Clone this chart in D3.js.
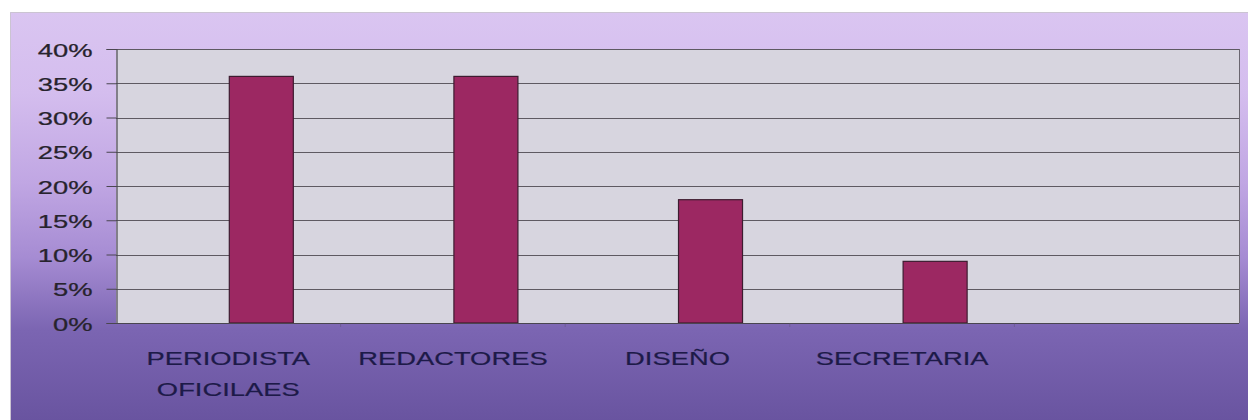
<!DOCTYPE html>
<html>
<head>
<meta charset="utf-8">
<script src="https://cdn.jsdelivr.net/npm/d3@7/dist/d3.min.js"></script>
<style>
  html, body { margin: 0; padding: 0; background: #ffffff; }
  svg { display: block; }
  text { font-family: "Liberation Sans", Arial, Helvetica, sans-serif; }
</style>
</head>
<body>
<svg id="chart" width="1248" height="420"></svg>
<script>
// Categories (the last slot of the axis is empty)
const categories = ["PERIODISTA\nOFICILAES", "REDACTORES", "DISEÑO", "SECRETARIA", ""];
// Share of each role
const values = [0.36, 0.36, 0.18, 0.09, null];
// Value axis ticks
const yTicks = [0, 0.05, 0.10, 0.15, 0.20, 0.25, 0.30, 0.35, 0.40];

const W = 1248, H = 420;
const plot = { left: 116, right: 1239, top: 49, bottom: 323 };
const textStretch = 1.44;   // wide lettering

const svg = d3.select("#chart");

// Background panel with lavender-to-purple gradient
const defs = svg.append("defs");
const grad = defs.append("linearGradient")
  .attr("id", "bg").attr("x1", 0).attr("y1", 0).attr("x2", 0).attr("y2", 1);
[[0, "#dac5f1"], [0.2, "#d4bdee"], [0.42, "#c0a6e3"], [0.6, "#a68cd3"],
 [0.78, "#7b65b2"], [1, "#6954a0"]].forEach(([o, c]) =>
  grad.append("stop").attr("offset", o).attr("stop-color", c));

svg.append("rect")
  .attr("x", 10).attr("y", 12).attr("width", W - 10).attr("height", H - 12)
  .attr("fill", "url(#bg)");
// top and left edge of the panel
svg.append("path")
  .attr("d", `M10.5,${H} V12.5 H${W}`)
  .attr("fill", "none").attr("stroke", "#cbc4d2").attr("stroke-width", 1);

// Scales
const x = d3.scaleBand().domain(d3.range(categories.length))
  .range([plot.left, plot.right]).paddingInner(0).paddingOuter(0);
const y = d3.scaleLinear().domain([0, 0.4]).range([plot.bottom, plot.top]);

// Plot area
svg.append("rect")
  .attr("x", plot.left).attr("y", plot.top)
  .attr("width", plot.right - plot.left).attr("height", plot.bottom - plot.top)
  .attr("fill", "#d7d5df");

// Gridlines
svg.append("g").selectAll("line").data(yTicks.filter(t => t > 0)).join("line")
  .attr("x1", plot.left).attr("x2", plot.right)
  .attr("y1", d => Math.round(y(d)) + 0.5).attr("y2", d => Math.round(y(d)) + 0.5)
  .attr("stroke", "#5e5a62").attr("stroke-width", 1);

// Right border of plot area
svg.append("line")
  .attr("x1", plot.right + 0.5).attr("x2", plot.right + 0.5)
  .attr("y1", plot.top).attr("y2", plot.bottom)
  .attr("stroke", "#6a6670");

// Bars (drawn right of the band centre)
const bw = x.bandwidth();
const barW = bw * 0.285;
const barShift = bw * 0.147;
svg.append("g").selectAll("rect")
  .data(values.map((v, i) => ({ v, i })).filter(d => d.v != null))
  .join("rect")
  .attr("x", d => x(d.i) + bw / 2 + barShift - barW / 2)
  .attr("y", d => y(d.v))
  .attr("width", barW)
  .attr("height", d => y(0) - y(d.v))
  .attr("fill", "#9c2862")
  .attr("stroke", "#3d1c30").attr("stroke-width", 1.2);

// Value axis
const yAxis = d3.axisLeft(y).tickValues(yTicks).tickFormat(d3.format(".0%"))
  .tickSize(10).tickPadding(0);
const gy = svg.append("g").attr("transform", `translate(${plot.left + 0.5},0)`).call(yAxis);
gy.select(".domain").attr("stroke", "#4a4650").attr("stroke-width", 1.2);
gy.selectAll(".tick line").attr("stroke", "#4a4650");
gy.selectAll(".tick text").remove();
gy.selectAll(".tick").append("text")
  .attr("transform", `translate(-24,7) scale(${textStretch},1)`)
  .attr("text-anchor", "end")
  .attr("font-size", 19)
  .attr("fill", "#27232d")
  .attr("stroke", "#27232d").attr("stroke-width", 0.25)
  .text(d => d3.format(".0%")(d));

// Category axis
svg.append("line")
  .attr("x1", plot.left).attr("x2", plot.right)
  .attr("y1", plot.bottom + 0.5).attr("y2", plot.bottom + 0.5)
  .attr("stroke", "#4a4650").attr("stroke-width", 1.2);
svg.append("g").selectAll("line").data(d3.range(1, categories.length)).join("line")
  .attr("x1", d => x(d)).attr("x2", d => x(d))
  .attr("y1", plot.bottom).attr("y2", plot.bottom + 4)
  .attr("stroke", "#5a5070").attr("stroke-opacity", 0.45).attr("stroke-width", 1);

const labels = svg.append("g").selectAll("g").data(categories.map((c, i) => ({ c, i })))
  .join("g")
  .attr("transform", d => `translate(${x(d.i) + bw / 2},0)`);
labels.each(function (d) {
  d.c.split("\n").forEach((line, k) => {
    d3.select(this).append("text")
      .attr("transform", `translate(0,${365 + k * 31}) scale(${textStretch},1)`)
      .attr("text-anchor", "middle")
      .attr("font-size", 19)
      .attr("fill", "#1d1a48")
      .attr("stroke", "#1d1a48").attr("stroke-width", 0.2)
      .text(line);
  });
});
</script>
</body>
</html>
